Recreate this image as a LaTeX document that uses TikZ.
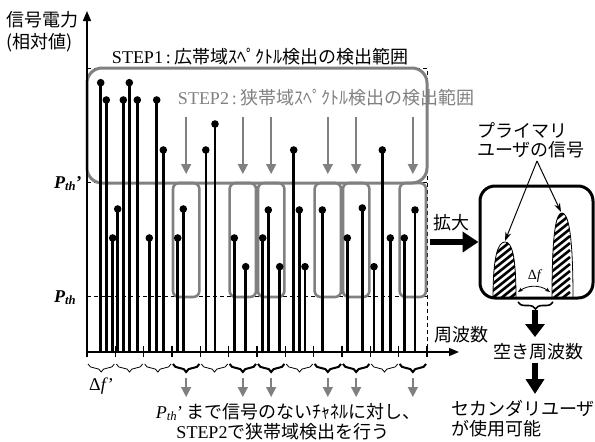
\documentclass[tikz,border=0pt]{standalone}
\usepackage{fontspec}
\setmainfont{Liberation Serif}
\newfontfamily\jp{Noto Sans CJK JP}
\usetikzlibrary{arrows.meta,decorations.pathreplacing}
\definecolor{boxgray}{RGB}{128,128,128}
\begin{document}
\begin{tikzpicture}[x=1pt,y=-1pt,font=\fontsize{18}{21}\selectfont,
  stem/.style={line width=2.6pt},
  gbox/.style={draw=boxgray,line width=2.6pt,rounded corners=6pt},
  garrow/.style={boxgray,line width=1.6pt,-{Triangle[length=10pt,width=10pt]}},
  dashline/.style={line width=0.8pt,dash pattern=on 4pt off 3pt},
  axisline/.style={line width=1.4pt,-{Triangle[length=10pt,width=8pt]}},
  thinbrace/.style={decorate,decoration={brace,amplitude=8pt,mirror},line width=0.8pt},
  thickbrace/.style={decorate,decoration={brace,amplitude=8pt,mirror},line width=2pt},
  bigarrow/.style={line width=6pt,-{Triangle[length=16pt,width=20pt]}},
  thinarrow/.style={line width=1pt,-{Stealth[length=9pt,width=6pt]}},
  lbl/.style={inner sep=0pt},
]
\useasboundingbox (0,0) rectangle (595,442);

% dashed reference lines
\draw[dashline] (87,68) -- (427,68) -- (427,352);
\draw[dashline] (87,182) -- (427,182);
\draw[dashline] (87,296) -- (427,296);

% STEP1 range
\draw[boxgray,line width=3pt,rounded corners=15pt] (87,68) rectangle (427,183);
% STEP2 boxes
\foreach \i in {3,5,6,8,9,11}
  \draw[gbox] ({87+28.333*\i+1},183) rectangle ({87+28.333*(\i+1)-1},297);

% gray arrows
\foreach \i in {3,5,6,8,9,11}{
  \coordinate (ta\i) at ({87+28.333*(\i+0.5)},117);
  \coordinate (tb\i) at ({87+28.333*(\i+0.5)},174);
  \draw[garrow] (ta\i) -- (tb\i);
  \coordinate (ba\i) at ({87+28.333*(\i+0.5)},378);
  \coordinate (bb\i) at ({87+28.333*(\i+0.5)},397);
  \draw[garrow] (ba\i) -- (bb\i);
}

% axes
\coordinate (O) at (87,352);
\coordinate (ytip) at (87,11);
\coordinate (xtip) at (459,352);
\draw[axisline] (O) -- (ytip);
\draw[axisline] (O) -- (xtip);
\foreach \i in {0,...,12}
  \draw[line width=1.4pt] ({87+28.333*\i},346) -- ++(0,11);

% braces
\foreach \i in {0,...,11}
  \draw[thinbrace] ({87+28.333*\i+1},364) -- ({87+28.333*(\i+1)-1},364);
\foreach \i in {3,5,6,8,9,11}
  \draw[thickbrace] ({87+28.333*\i+1},364) -- ({87+28.333*(\i+1)-1},364);

% stems
\foreach \x/\y in {100.7/82.7,106.3/100,112.7/238,117.7/209,123.3/100,129.3/82.7,
  137.3/100,149.3/238,156.7/100,163.3/150,177.7/238,183.3/209,205.8/150,215/124,
  234.3/238,245.7/266.7,262.7/238,268.3/210,279.7/266.7,293.7/150,299.3/210,
  305/266.7,322.3/210,347.3/238,362.3/208,374/266.7,382.3/150,390.3/238,
  404.3/238,415/210}{
  \draw[stem] (\x,352) -- (\x,\y);
  \fill (\x,\y) circle (3.8pt);
}

% labels
\node[lbl,anchor=west] (ylab1) at (6,20) {\jp 信号電力};
\node[lbl,anchor=west] (ylab2) at (6,43) {\jp (相対値)};
\node[lbl] (step1) at (260,57) {STEP1\,:\,\jp 広帯域ｽﾍﾟｸﾄﾙ検出の検出範囲};
\node[lbl,text=boxgray] (step2) at (326,98) {STEP2\,:\,\jp 狭帯域ｽﾍﾟｸﾄﾙ検出の検出範囲};
\node[lbl,anchor=base west] (pthp) at (54,188) {{\bfseries\itshape P\textsubscript{th}}{\bfseries ’}};
\node[lbl,anchor=base west] (pth) at (54,302) {\bfseries\itshape P\textsubscript{th}};
\node[lbl,anchor=base west] (dfp) at (89,390) {Δ\textit{f}’};
\node[lbl,anchor=west] (freq) at (434,335) {\jp 周波数};
\node[lbl] (kakudai) at (451,223) {\jp 拡大};
\node[lbl] (note1) at (288,412) {\textit{P}\textsubscript{\textit{th}}’\,{\jp まで信号のないﾁｬﾈﾙに対し、}};
\node[lbl] (note2) at (283,432) {STEP2{\jp で狭帯域検出を行う}};

% zoom box
\node[draw,line width=3pt,rounded corners=15pt,minimum width=113pt,minimum height=112pt,inner sep=0pt] (zoom) at (536.5,242) {};
\coordinate (kstart) at (430,242);
\draw[bigarrow] (kstart) -- (zoom.west);

\begin{scope}
  \clip (493,298) .. controls (493,256) and (498,242) .. (505,242) .. controls (512,242) and (516,256) .. (516,298) -- cycle
        (552,298) .. controls (552,232) and (556,213) .. (562,213) .. controls (568,213) and (573,232) .. (573,298) -- cycle;
  \foreach \k in {0,...,40}
    \draw[line width=2.6pt] (470,{400-7*\k}) -- ++(100,-80);
\end{scope}
\draw[line width=0.8pt] (493,298) .. controls (493,256) and (498,242) .. (505,242) .. controls (512,242) and (516,256) .. (516,298);
\draw[line width=0.8pt] (552,298) .. controls (552,232) and (556,213) .. (562,213) .. controls (568,213) and (573,232) .. (573,298);
\coordinate (apexL) at (505,241);
\coordinate (apexR) at (561,212);
\coordinate (dfa) at (518,292);
\coordinate (dfb) at (550,292);
\draw[line width=0.8pt,{Stealth[length=5pt,width=4pt]}-{Stealth[length=5pt,width=4pt]}] (dfa) to[bend left=35] (dfb);
\node[lbl,font=\fontsize{14}{16}\selectfont] (df) at (535,276) {Δ\textit{f}};

\node[lbl,anchor=west] (prim1) at (477,130) {\jp プライマリ};
\node[lbl,anchor=west] (prim2) at (477,150) {\jp ユーザの信号};
\coordinate (pu) at (537,161);
\draw[thinarrow] (pu) -- (apexL);
\draw[thinarrow] (pu) -- (apexR);

\draw[decorate,decoration={brace,amplitude=7pt,mirror},line width=1.6pt] (518,302) -- (553,302);
\coordinate (b1) at (535,310);
\node[lbl] (aki) at (538,352) {\jp 空き周波数};
\draw[line width=6pt,-{Triangle[length=13pt,width=19pt]}] (b1) -- (535,337);
\coordinate (b2) at (535,363);
\coordinate (b3) at (535,394);
\draw[line width=6pt,-{Triangle[length=15pt,width=18pt]}] (b2) -- (b3);
\node[lbl,anchor=west] (sec1) at (451,408) {\jp セカンダリユーザ};
\node[lbl,anchor=west] (sec2) at (451,429) {\jp が使用可能};
\end{tikzpicture}
\end{document}
